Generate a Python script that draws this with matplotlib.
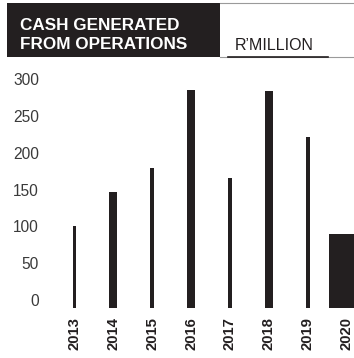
import matplotlib
matplotlib.use("Agg")
import matplotlib.pyplot as plt
from matplotlib.patches import Rectangle
from matplotlib.lines import Line2D

years = ["2013", "2014", "2015", "2016", "2017", "2018", "2019", "2020"]
cash_generated = [100, 147, 179, 285, 166, 284, 222, 90]
bar_widths = [0.09, 0.2, 0.1, 0.2, 0.085, 0.19, 0.1, 0.9]
y_ticks = [0, 50, 100, 150, 200, 250, 300]

INK = "#231f20"
W, H = 354, 358
DPI = 100

plt.rcParams["font.family"] = ["Liberation Sans", "DejaVu Sans"]

fig = plt.figure(figsize=(W / DPI, H / DPI), dpi=DPI)

# axes placed in pixel units
ax_left, ax_right = 44, 354
ax_top, ax_bottom = 70, 308
ax = fig.add_axes([ax_left / W, (H - ax_bottom) / H,
                   (ax_right - ax_left) / W, (ax_bottom - ax_top) / H])

x0_px, step_px = 74.4, 38.9
px_per_unit = 0.7357
zero_px = 300
xlim = ((ax_left - x0_px) / step_px, (ax_right - x0_px) / step_px)
ylim = (-(ax_bottom - zero_px) / px_per_unit, (zero_px - ax_top) / px_per_unit)
ax.set_xlim(*xlim)
ax.set_ylim(*ylim)

floor = ylim[0]
xs = list(range(len(years)))
ax.bar(xs, [v - floor for v in cash_generated], bottom=floor,
       width=bar_widths, color=INK, linewidth=0, clip_on=False)

for s in ax.spines.values():
    s.set_visible(False)

ax.set_yticks(y_ticks)
ax.set_yticklabels([str(t) for t in y_ticks])
ax.tick_params(axis="y", length=0, pad=3.6, labelsize=11.2, labelcolor="#3a3a3a")
ax.set_xticks(xs)
ax.set_xticklabels(years, rotation=90, fontweight="bold")
ax.tick_params(axis="x", length=0, pad=6.5, labelsize=10.7, labelcolor=INK)

# header block
fig.patches.append(Rectangle((7 / W, (H - 57) / H), 213 / W, 54 / H,
                             transform=fig.transFigure, facecolor=INK,
                             edgecolor="none"))
fig.lines.append(Line2D([220 / W, 1], [(H - 3) / H] * 2, transform=fig.transFigure,
                        color="#9a9a9a", linewidth=0.8))
fig.lines.append(Line2D([220 / W, 1], [(H - 57) / H] * 2, transform=fig.transFigure,
                        color="#9a9a9a", linewidth=0.8))
fig.lines.append(Line2D([228 / W, 328 / W], [(H - 57) / H] * 2, transform=fig.transFigure,
                        color=INK, linewidth=1.2))

fig.text(20 / W, (H - 30.5) / H, "CASH GENERATED", color="white",
         fontsize=12.3, fontweight="bold", va="baseline", ha="left")
fig.text(20 / W, (H - 48.7) / H, "FROM OPERATIONS", color="white",
         fontsize=12.3, fontweight="bold", va="baseline", ha="left")
fig.text(235 / W, (H - 50) / H, "R\u2019MILLION", color=INK,
         fontsize=11.5, va="baseline", ha="left")

fig.savefig("out.png", dpi=DPI)
